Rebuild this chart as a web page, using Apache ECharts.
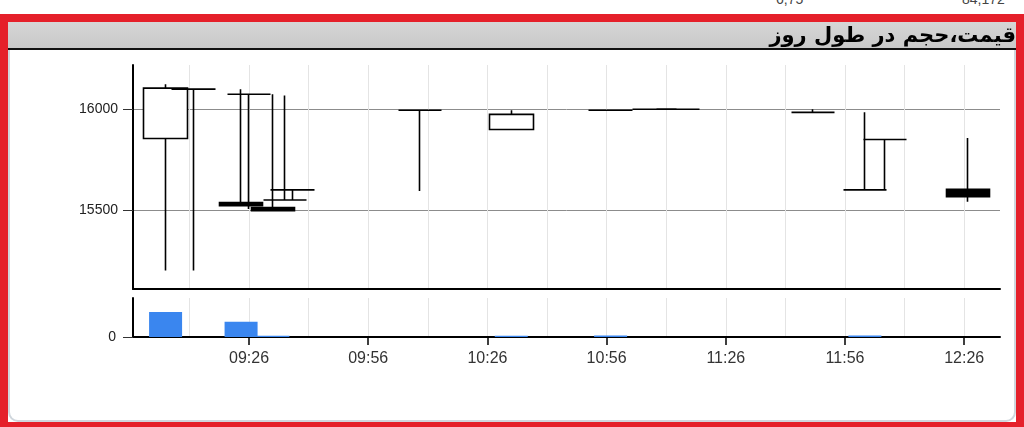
<!DOCTYPE html>
<html>
<head>
<meta charset="utf-8">
<script src="https://cdn.jsdelivr.net/npm/echarts@6/dist/echarts.min.js"></script>
<style>
  html, body { margin:0; padding:0; background:#fff; width:1024px; height:427px; overflow:hidden; }
  #frame { position:absolute; left:0; top:14px; width:1008px; height:400px; border:8px solid #e5202a; border-bottom-width:5px; }
  #header { position:absolute; left:0; top:0; width:1008px; height:26px; background:linear-gradient(#d6d6d6,#c9c9c9); border-bottom:2px solid #111; }
  #panel { position:absolute; left:0; top:28px; width:1004px; height:370px; background:#fff; border:2px solid #cfd6dc; border-top:none; border-radius:0 0 10px 10px; }
  .cut { position:absolute; top:-9px; font:14px "Liberation Sans", Arial, sans-serif; color:#444; }
  #chart { position:absolute; left:0; top:0; width:1024px; height:427px; }
</style>
</head>
<body>
<div class="cut" style="left:776px">6,75</div>
<div class="cut" style="left:962px">84,172</div>
<div id="frame"><div id="header"></div><div id="panel"></div></div>
<div id="chart"></div>
<script>
// ---- data ----
const candleTimes = ['09:05','09:12','09:24','09:26','09:32','09:35','09:37','10:09','10:32','10:57','11:08','11:14','11:48','12:01','12:06','12:27'];
const openPrices  = [15855,16100,15537,16075,15512,15550,15600,15995,15900,15995,16000,16000,15985,15600,15850,15603];
const closePrices = [16105,16100,15522,16075,15497,15550,15600,15995,15975,15995,16000,16000,15985,15600,15850,15566];
const lowPrices   = [15200,15200,15522,15505,15497,15550,15550,15595,15900,15995,16000,16000,15985,15600,15600,15541];
const highPrices  = [16125,16100,16100,16075,16075,16068,15600,15995,15995,15995,16000,16000,16000,15985,15850,15857];
const volumes     = [64,0,39,0,3,0,0,0,3,4,0,0,0,4,0,0];
const timeTickLabels = ['09:26','09:56','10:26','10:56','11:26','11:56','12:26'];
const priceTickLabels = [15500, 16000];
const volumeTickLabels = [0];
const titleText = 'قیمت،حجم در طول روز';
const axisStart = '08:56:48';
const axisEnd = '12:35:00';

// ---- helpers ----
const toMin = s => { const p = s.split(':').map(Number); return p[0]*60 + p[1] + (p[2] || 0)/60; };
const X0 = toMin('08:56');
const xv = s => toMin(s) - X0;
const pad = n => (n < 10 ? '0' : '') + n;
const fmtTime = v => { const t = Math.floor(X0 + v + 1e-6); return pad(Math.floor(t/60)) + ':' + pad(t % 60); };

const candleData = candleTimes.map((t, i) => [xv(t), openPrices[i], closePrices[i], lowPrices[i], highPrices[i]]);
const volumeData = candleTimes.map((t, i) => [xv(t), volumes[i]]);
const xTicks = timeTickLabels.map(xv);
const xMin = xv(axisStart), xMax = xv(axisEnd);

const FONT = '"Liberation Sans", Arial, sans-serif';
const chart = echarts.init(document.getElementById('chart'), null, {renderer:'canvas'});
chart.setOption({
  animation: false,
  backgroundColor: 'transparent',
  title: {
    text: titleText, right: 8, top: 26, padding: 0,
    textStyle: { fontFamily: '"DejaVu Sans", sans-serif', fontSize: 21, fontWeight: 'bold', color: '#000' }
  },
  grid: [
    { left: 133, top: 65, width: 867, height: 224 },
    { left: 133, top: 298, width: 867, height: 39 }
  ],
  xAxis: [
    { type: 'value', gridIndex: 0, min: xMin, max: xMax, minInterval: 15, maxInterval: 15, splitNumber: 14,
      axisLine: { show: true, onZero: false, lineStyle: { color: '#000', width: 2 } },
      axisTick: { show: false }, axisLabel: { show: false },
      splitLine: { show: true, showMinLine: false, showMaxLine: false, lineStyle: { color: '#e4e4e4', width: 1 } } },
    { type: 'value', gridIndex: 1, min: xMin, max: xMax, position: 'bottom',
      axisLine: { show: true, onZero: false, lineStyle: { color: '#000', width: 2 } },
      axisTick: { show: true, length: 8, customValues: xTicks, lineStyle: { color: '#000', width: 1.5 } },
      axisLabel: { show: true, customValues: xTicks, margin: 14, formatter: fmtTime,
                   fontFamily: FONT, fontSize: 16, color: '#333' },
      splitLine: { show: false } },
    { type: 'value', gridIndex: 1, min: xMin, max: xMax, position: 'top', minInterval: 15, maxInterval: 15, splitNumber: 14,
      axisLine: { show: false }, axisTick: { show: false }, axisLabel: { show: false },
      splitLine: { show: true, showMinLine: false, showMaxLine: false, lineStyle: { color: '#e4e4e4', width: 1 } } }
  ],
  yAxis: [
    { type: 'value', gridIndex: 0, min: 15108, max: 16220,
      axisLine: { show: true, lineStyle: { color: '#000', width: 2 } },
      axisTick: { show: true, length: 10, customValues: priceTickLabels, lineStyle: { color: '#333', width: 1 } },
      axisLabel: { show: true, customValues: priceTickLabels, margin: 15, formatter: v => String(v),
                   fontFamily: FONT, fontSize: 14, color: '#222' },
      splitLine: { show: true, lineStyle: { color: '#8c8c8c', width: 1 } } },
    { type: 'value', gridIndex: 1, min: 0, max: 100, interval: 100,
      axisLine: { show: true, lineStyle: { color: '#000', width: 2 } },
      axisTick: { show: true, length: 10, customValues: volumeTickLabels, lineStyle: { color: '#333', width: 1 } },
      axisLabel: { show: true, customValues: volumeTickLabels, margin: 17, formatter: v => String(v),
                   fontFamily: FONT, fontSize: 14, color: '#222' },
      splitLine: { show: false } }
  ],
  series: [
    { type: 'candlestick', xAxisIndex: 0, yAxisIndex: 0, barWidth: 44, data: candleData,
      itemStyle: { color: '#fff', color0: '#000', borderColor: '#000', borderColor0: '#000', borderColorDoji: '#000', borderWidth: 1.6 } },
    { type: 'bar', xAxisIndex: 1, yAxisIndex: 1, barWidth: 33, data: volumeData,
      itemStyle: { color: '#3a86ef' } }
  ]
});
</script>
</body>
</html>
